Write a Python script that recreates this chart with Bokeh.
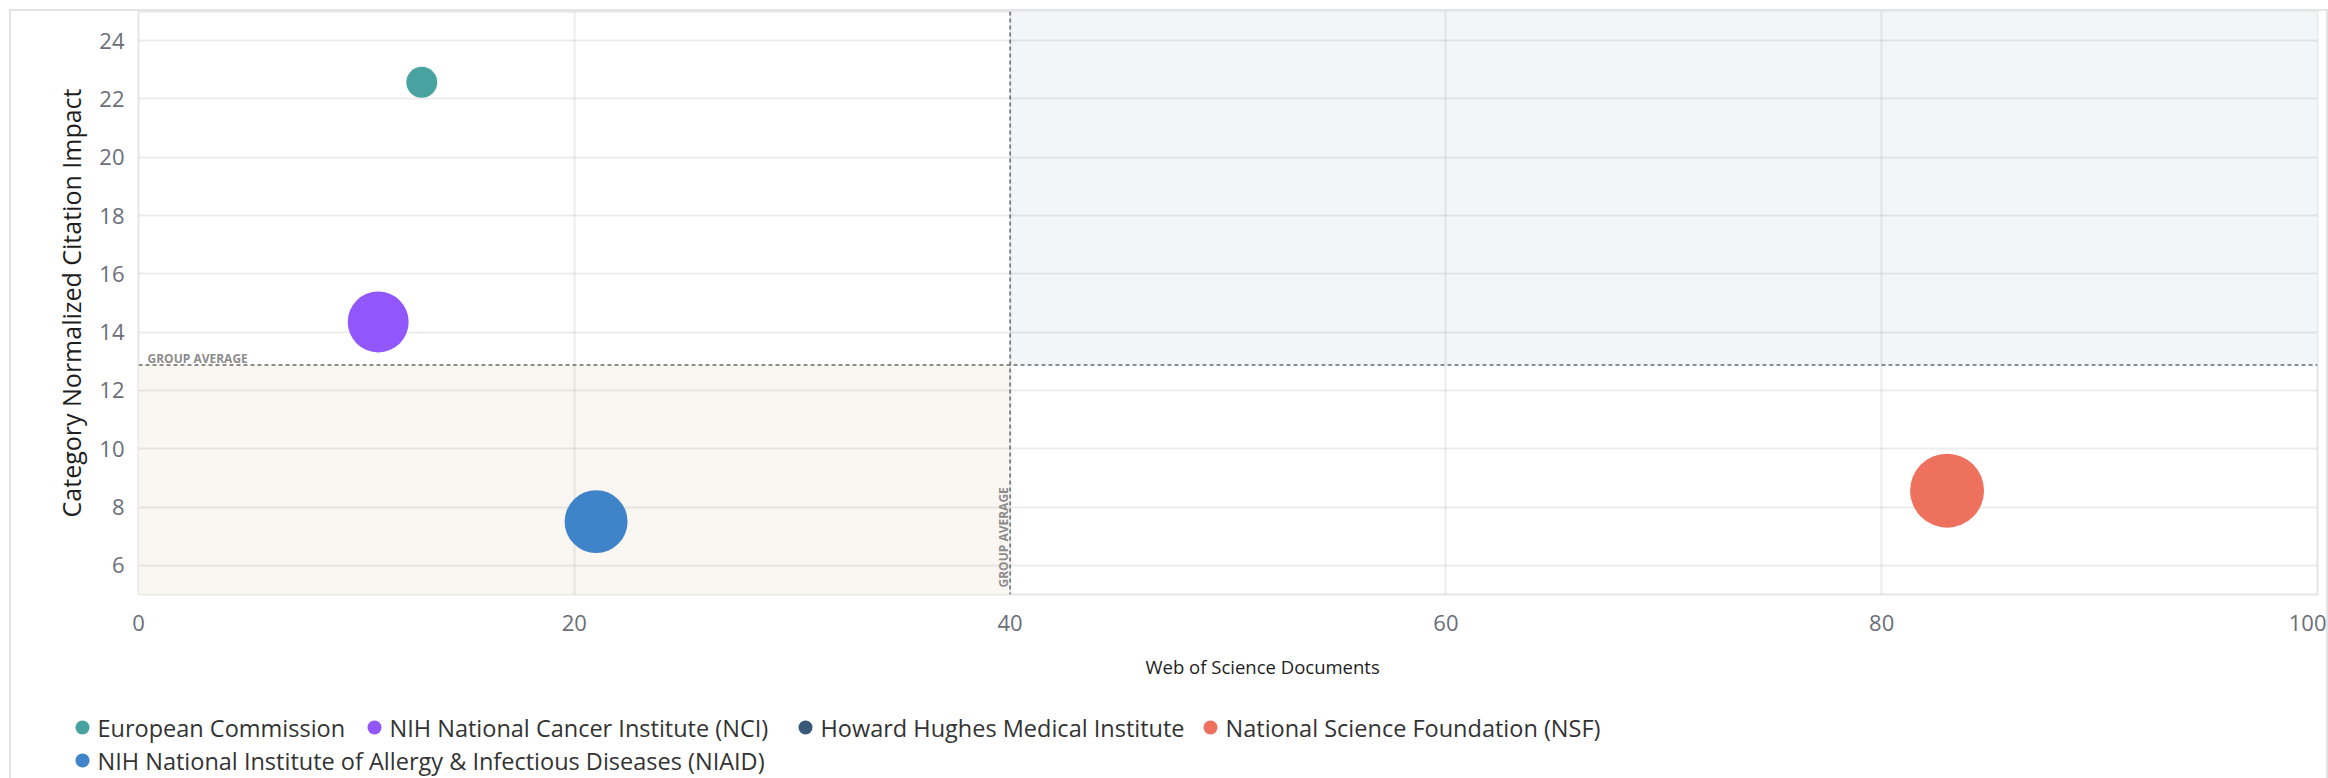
import math
from bokeh.plotting import figure
from bokeh.layouts import column
from bokeh.core.properties import value
from bokeh.models import (ColumnDataSource, Span, BoxAnnotation, Label,
                          FixedTicker, Range1d, Title)
from bokeh.embed import file_html
from bokeh.resources import INLINE

# ---------------- data ----------------
funders = [
    "European Commission",
    "NIH National Cancer Institute (NCI)",
    "Howard Hughes Medical Institute",
    "National Science Foundation (NSF)",
    "NIH National Institute of Allergy & Infectious Diseases (NIAID)",
]
wos_documents = [13, 11, None, 83, 21]
cnci = [22.57, 14.35, None, 8.56, 7.5]
times_cited = [96, 372, None, 548, 397]
colors = ["#48a3a0", "#9157fc", "#38587a", "#ee715d", "#3f83c9"]

group_avg_docs = 40
group_avg_cnci = 12.87

x_ticks = [0, 20, 40, 60, 80, 100]
y_ticks = [6, 8, 10, 12, 14, 16, 18, 20, 22, 24]
x_limits = (0, 100)
y_limits = (5, 25)

x_title = "Web of Science Documents"
y_title = "Category Normalized Citation Impact"
avg_text = "GROUP AVERAGE"

# ---------------- style / layout ----------------
FONT = "Open Sans"
TICK_COLOR = "#6b6e78"
BORDER = "2px solid #e4e4e4"
CANVAS_W = 2315
LEGEND_H = 78
# legend slot positions in the legend strip (pixels): marker centre x, row
legend_marker_px = [71, 363, 794, 1199, 71]
legend_row = [0, 0, 0, 0, 1]
legend_row_from_top = [27, 60]

p = figure(
    frame_width=2179, frame_height=583,
    min_border_left=127, min_border_top=0, min_border_right=9, min_border_bottom=106,
    x_range=Range1d(*x_limits), y_range=Range1d(*y_limits),
    output_backend="svg", toolbar_location=None,
    background_fill_color="white", border_fill_color="white",
    outline_line_color="#e6e6e6", outline_line_width=2,
)
p.frame_align = False

# quadrant shading
p.add_layout(BoxAnnotation(left=group_avg_docs, bottom=group_avg_cnci,
                           fill_color="#f3f6f9", fill_alpha=1, line_color=None, level="image"))
p.add_layout(BoxAnnotation(right=group_avg_docs, top=group_avg_cnci,
                           fill_color="#faf7f3", fill_alpha=1, line_color=None, level="image"))

# axes
p.xaxis.ticker = FixedTicker(ticks=x_ticks)
p.yaxis.ticker = FixedTicker(ticks=y_ticks)
p.xgrid.ticker = FixedTicker(ticks=x_ticks)
p.ygrid.ticker = FixedTicker(ticks=y_ticks)
p.grid.grid_line_color = "#000000"
p.grid.grid_line_alpha = 0.075
p.grid.grid_line_width = 2
p.axis.axis_line_color = None
p.axis.major_tick_line_color = None
p.axis.minor_tick_line_color = None
p.axis.major_label_text_font = FONT
p.axis.major_label_text_font_size = "22px"
p.axis.major_label_text_color = TICK_COLOR
p.xaxis.major_label_standoff = 14
p.yaxis.major_label_standoff = 8
p.yaxis.axis_label = y_title
p.yaxis.axis_label_text_font = FONT
p.yaxis.axis_label_text_font_style = "normal"
p.yaxis.axis_label_text_color = "#1e1e1e"
p.yaxis.axis_label_text_font_size = "25px"
p.yaxis.axis_label_standoff = 8

p.add_layout(Title(text=x_title, align="left", offset=1007, standoff=37,
                   text_font=FONT, text_font_size="18.5px", text_font_style="normal",
                   text_color="#1e1e1e"), "below")

# group average lines
p.add_layout(Span(location=group_avg_cnci, dimension="width", line_color="#6a6a6a",
                  line_dash="4 3", line_width=1.5))
p.add_layout(Span(location=group_avg_docs, dimension="height", line_color="#6a6a6a",
                  line_dash="4 3", line_width=1.5))
p.add_layout(Label(x=x_limits[0], y=group_avg_cnci, x_offset=9, y_offset=7, text=avg_text,
                   text_font=FONT, text_font_size="12px", text_color="#8c8c8c",
                   text_font_style="bold", text_align="left", text_baseline="alphabetic"))
p.add_layout(Label(x=group_avg_docs, y=y_limits[0], x_offset=-7, y_offset=7, text=avg_text,
                   angle=math.pi / 2, text_font=FONT, text_font_size="12px",
                   text_color="#8c8c8c", text_font_style="bold",
                   text_align="left", text_baseline="alphabetic"))

# bubbles
for name, xd, yd, tc, col in zip(funders, wos_documents, cnci, times_cited, colors):
    if xd is None:
        continue
    src = ColumnDataSource(data=dict(x=[xd], y=[yd], s=[3.16 * math.sqrt(tc)]))
    p.scatter(x="x", y="y", size="s", source=src, fill_color=col, line_color=None,
              fill_alpha=1)

# legend strip (separate figure below the chart, pixel coordinates)
lf = figure(width=CANVAS_W, height=LEGEND_H, min_border=0, output_backend="svg",
            toolbar_location=None, x_range=Range1d(0, CANVAS_W), y_range=Range1d(0, LEGEND_H),
            x_axis_location=None, y_axis_location=None,
            outline_line_color=None, border_fill_color="white", background_fill_color="white")
lf.frame_align = False
lf.grid.visible = False

leg_src = ColumnDataSource(data=dict(
    mx=legend_marker_px,
    tx=[m + 15 for m in legend_marker_px],
    y=[LEGEND_H - legend_row_from_top[r] for r in legend_row],
    label=funders,
    color=colors,
))
lf.scatter(x="mx", y="y", size=14, fill_color="color", line_color=None, source=leg_src)
lf.text(x="tx", y="y", text="label", source=leg_src, text_font=value(FONT),
        text_font_size="23.5px", text_color="#333333", text_align="left",
        text_baseline="middle")

layout = column(p, lf, spacing=0)
layout.styles = {"margin-left": "9px", "margin-top": "9px", "border-top": BORDER,
                 "border-left": BORDER, "border-right": BORDER}

open("out.html", "w").write(file_html(layout, INLINE))
